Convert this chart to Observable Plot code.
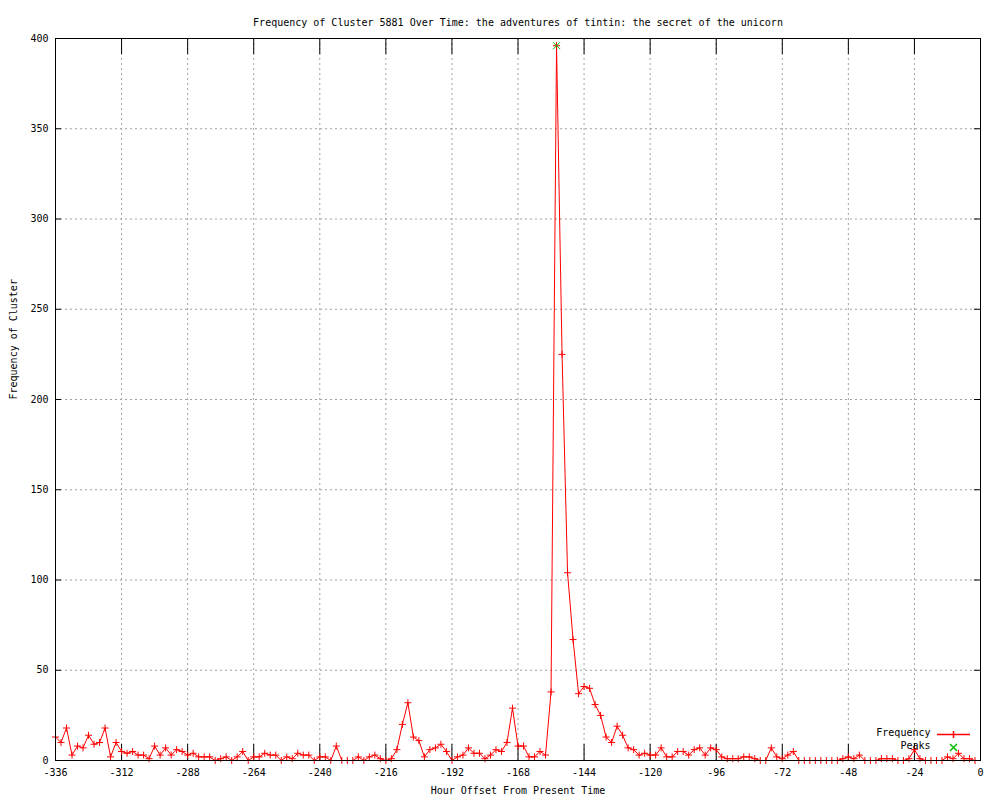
<!DOCTYPE html>
<html>
<head>
<meta charset="utf-8">
<script src="https://cdn.jsdelivr.net/npm/d3@7"></script>
<script src="https://cdn.jsdelivr.net/npm/@observablehq/plot@0.6"></script>
<style>
  body { margin: 0; background: #ffffff; }
  #chart { width: 1000px; height: 800px; }
</style>
</head>
<body>
<div id="chart"></div>
<script>
const title = "Frequency of Cluster 5881 Over Time: the adventures of tintin: the secret of the unicorn";
const xLabel = "Hour Offset From Present Time";
const yLabel = "Frequency of Cluster";
const legendLabels = ["Frequency", "Peaks"];

const hours = [
  -336,-334,-332,-330,-328,-326,-324,-322,-320,-318,-316,-314,-312,-310,-308,-306,-304,-302,-300,-298,
  -296,-294,-292,-290,-288,-286,-284,-282,-280,-278,-276,-274,-272,-270,-268,-266,-264,-262,-260,-258,
  -256,-254,-252,-250,-248,-246,-244,-242,-240,-238,-236,-234,-232,-230,-228,-226,-224,-222,-220,-218,
  -216,-214,-212,-210,-208,-206,-204,-202,-200,-198,-196,-194,-192,-190,-188,-186,-184,-182,-180,-178,
  -176,-174,-172,-170,-168,-166,-164,-162,-160,-158,-156,-154,-152,-150,-148,-146,-144,-142,-140,-138,
  -136,-134,-132,-130,-128,-126,-124,-122,-120,-118,-116,-114,-112,-110,-108,-106,-104,-102,-100,-98,
  -96,-94,-92,-90,-88,-86,-84,-82,-80,-78,-76,-74,-72,-70,-68,-66,-64,-62,-60,-58,
  -56,-54,-52,-50,-48,-46,-44,-42,-40,-38,-36,-34,-32,-30,-28,-26,-24,-22,-20,-18,
  -16,-14,-12,-10,-8,-6,-4,-2
];

const frequency = [
  13,10,18,3,8,7,14,9,10,18,2,10,5,4,5,3,3,1,8,3,
  7,3,6,5,3,4,2,2,2,0,1,2,0,2,5,0,2,2,4,3,
  3,0,2,1,4,3,3,0,2,2,0,8,0,0,0,2,0,2,3,1,
  0,1,6,20,32,13,11,2,6,7,9,5,0,2,3,7,4,4,1,3,
  6,5,10,29,8,8,2,2,5,3,38,396,225,104,67,37,41,40,31,25,
  13,10,19,14,7,6,3,4,3,3,7,2,2,5,5,3,6,7,3,7,
  6,2,1,1,1,2,2,1,0,0,7,2,1,3,5,0,0,0,0,0,
  0,0,0,1,2,1,3,0,0,0,1,1,1,0,0,1,6,1,0,0,
  0,0,2,1,4,1,1,0
];

const peakHours = [-154];
const peakValues = [396];

const xTicks = [-336,-312,-288,-264,-240,-216,-192,-168,-144,-120,-96,-72,-48,-24,0];
const yTicks = [0,50,100,150,200,250,300,350,400];

const data = hours.map((h, i) => ({hour: h, freq: frequency[i]}));
const peaks = peakHours.map((h, i) => ({hour: h, freq: peakValues[i]}));

const plusSym = {
  draw(ctx) {
    const r = 3.5;
    ctx.moveTo(-r, 0); ctx.lineTo(r, 0);
    ctx.moveTo(0, -r); ctx.lineTo(0, r);
  }
};
const crossSym = {
  draw(ctx) {
    const r = 3.5;
    ctx.moveTo(-r, -r); ctx.lineTo(r, r);
    ctx.moveTo(-r, r); ctx.lineTo(r, -r);
  }
};
const legendLineSym = {
  draw(ctx) {
    const w = 16.5, r = 3.5;
    ctx.moveTo(-w, 0); ctx.lineTo(w, 0);
    ctx.moveTo(0, -r); ctx.lineTo(0, r);
  }
};

const W = 1000, H = 800;
const mL = 55, mR = 20, mT = 38, mB = 40;
const frameW = W - mL - mR, frameH = H - mT - mB;
const font = "'DejaVu Sans Mono', 'Liberation Mono', monospace";

const chart = Plot.plot({
  width: W,
  height: H,
  marginLeft: mL,
  marginRight: mR,
  marginTop: mT,
  marginBottom: mB,
  style: {fontFamily: font, fontSize: "10px", background: "#ffffff", color: "#000000"},
  x: {domain: [-336, 0], nice: false},
  y: {domain: [0, 400], nice: false},
  marks: [
    Plot.ruleX(xTicks, {x: d => d, stroke: "#a0a0a0", strokeOpacity: 1, strokeDasharray: "2,3"}),
    Plot.ruleY(yTicks, {y: d => d, stroke: "#a0a0a0", strokeOpacity: 1, strokeDasharray: "2,3"}),
    Plot.tickX(xTicks, {x: d => d, stroke: "#000", insetTop: frameH - 16}),
    Plot.tickX(xTicks, {x: d => d, stroke: "#000", insetBottom: frameH - 16}),
    Plot.tickY(yTicks, {y: d => d, stroke: "#000", insetRight: frameW - 6}),
    Plot.tickY(yTicks, {y: d => d, stroke: "#000", insetLeft: frameW - 6}),
    Plot.axisX({ticks: xTicks, tickSize: 0, tickPadding: 8, tickFormat: d => String(d), label: null, fontSize: 10}),
    Plot.axisY({ticks: yTicks, tickSize: 0, tickPadding: 7, tickFormat: d => String(d), label: null, fontSize: 10}),
    Plot.line(data, {x: "hour", y: "freq", stroke: "#ff0000", strokeWidth: 1}),
    Plot.dot(data, {x: "hour", y: "freq", symbol: plusSym, stroke: "#ff0000", fill: "none", strokeWidth: 1}),
    Plot.dot(peaks, {x: "hour", y: "freq", symbol: crossSym, stroke: "#00c000", fill: "none", strokeWidth: 1}),
    Plot.frame({stroke: "#000", strokeWidth: 1}),
    Plot.text([title], {frameAnchor: "top", dy: -20, text: d => d, fontSize: 10, fill: "#000"}),
    Plot.text([xLabel], {frameAnchor: "bottom", dy: 33, text: d => d, fontSize: 10, fill: "#000"}),
    Plot.text([yLabel], {frameAnchor: "left", dx: -42, rotate: -90, text: d => d, fontSize: 10, fill: "#000"}),
    Plot.text([legendLabels[0]], {frameAnchor: "bottom-right", dx: -50, dy: -25, text: d => d, textAnchor: "end", fontSize: 10, fill: "#000"}),
    Plot.text([legendLabels[1]], {frameAnchor: "bottom-right", dx: -50, dy: -12, text: d => d, textAnchor: "end", fontSize: 10, fill: "#000"}),
    Plot.dot([legendLabels[0]], {frameAnchor: "bottom-right", dx: -27, dy: -26, symbol: legendLineSym, stroke: "#ff0000", fill: "none"}),
    Plot.dot([legendLabels[1]], {frameAnchor: "bottom-right", dx: -27, dy: -13, symbol: crossSym, stroke: "#00c000", fill: "none"})
  ]
});

document.getElementById("chart").appendChild(chart);
</script>
</body>
</html>
